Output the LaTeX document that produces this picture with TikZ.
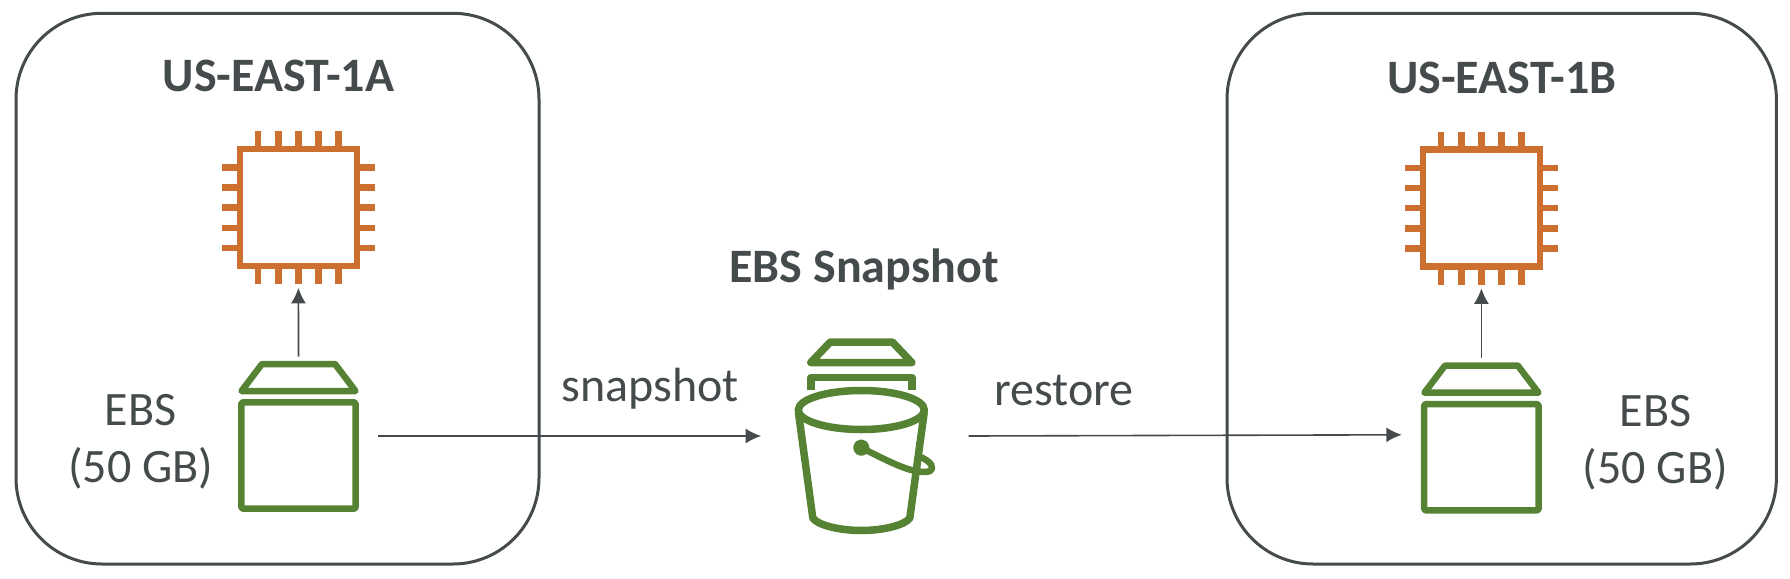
\documentclass[tikz,border=0pt]{standalone}
\usepackage{fontspec}
\setmainfont{Carlito}
\usetikzlibrary{
  arrows.meta, % for the triangle arrow tip
  positioning, % for relative positioning of the labels
}
\definecolor{inkgray}{HTML}{454B4C}
\definecolor{chiporange}{HTML}{CC6F2F}
\definecolor{ebsgreen}{HTML}{568234}
\tikzset{
  region/.style={ % style for the availability zones
    rectangle,draw=inkgray,line width=3pt,
    rounded corners=86pt,
    inner sep=0pt,
  },
  heading/.style={ % style for the bold titles
    text=inkgray,inner sep=0pt,
    font=\fontsize{48}{58}\selectfont\bfseries,
  },
  caption/.style={ % style for the plain labels
    text=inkgray,inner sep=0pt,align=center,
    font=\fontsize{48}{57}\selectfont,
  },
  conn/.style={ % style for the connections
    -{Latex[length=15.5pt,width=15pt]},
    draw=inkgray,line width=1.6pt,
  },
  chipline/.style={draw=chiporange,line width=6.5pt},
  greenline/.style={draw=ebsgreen,line width=6.5pt,line join=round},
  chipicon/.pic={ % processor with five pins on each side
    \node[rectangle,chipline,minimum size=117pt,inner sep=0pt] (body) at (0,0) {};
    \foreach \pos in {-40.2,-20.1,0,20.1,40.2} {
      \draw[chipline] (\pos,-60) -- (\pos,-76.6);
      \draw[chipline] (\pos,60) -- (\pos,76.6);
      \draw[chipline] (-60,\pos) -- (-76.6,\pos);
      \draw[chipline] (60,\pos) -- (76.6,\pos);
    }
  },
  ebsicon/.pic={ % volume with its lid
    \node[rectangle,greenline,rounded corners=1.5pt,minimum width=114.4pt,minimum height=106.4pt,inner sep=0pt] (body) at (0,0) {};
    \draw[greenline] (-57,-64.5) -- (-36.5,-91.5) -- (36.5,-91.5) -- (57,-64.5) -- cycle;
    \coordinate (lid) at (0,-95);
  },
  bucketicon/.pic={ % bucket below a lid and a bracket
    \draw[greenline,line width=7.5pt] (-50.5,-47.5) -- (-31,-68) -- (31,-68) -- (50.5,-47.5) -- cycle;
    \draw[greenline,line width=7.5pt] (-50.5,-20) -- (-50.5,-32.5) -- (50.5,-32.5) -- (50.5,-20);
    \draw[greenline,line width=7.5pt] (0,0) ellipse (63 and 19.5);
    \draw[greenline,line width=7.5pt,line cap=round] (-62.8,3) -- (-48.5,108) .. controls (-44,115) and (-22,120.5) .. (0,120.5)
      .. controls (22,120.5) and (44,115) .. (48.5,108) -- (62.8,3);
    \draw[greenline,fill=ebsgreen] (0,37.7) circle (5);
    \draw[greenline,line width=6.5pt] (0,37.7) .. controls (15,45) and (35,56) .. (50,60)
      .. controls (58,62) and (70,64) .. (70.7,58) .. controls (71,53) and (65,50) .. (59.7,47);
  },
}

\begin{document}
\begin{tikzpicture}[x=1pt,y=-1pt]
	\useasboundingbox (0,0) rectangle (1790,578);

	\node[region,minimum width=523pt,minimum height=550.7pt] (zonea) at (277.5,288.65) {};
	\node[region,minimum width=549.4pt,minimum height=550.7pt] (zoneb) at (1501.7,288.65) {};

	\pic (chipa) at (298.4,207.7) {chipicon};
	\pic (chipb) at (1481.4,208.2) {chipicon};
	\pic (ebsa) at (298.5,455.5) {ebsicon};
	\pic (ebsb) at (1481.4,457.2) {ebsicon};
	\pic at (861.3,410) {bucketicon};
	\node[minimum width=207pt,minimum height=20pt,inner sep=0pt] (bucket) at (864.85,436) {};

	\node[heading,anchor=base] (titlea) at (278.6,92) {US-EAST-1A};
	\node[heading,anchor=base] (titleb) at (1501.8,93) {US-EAST-1B};
	\node[heading,anchor=base] (titlesnap) at (864,282) {EBS Snapshot};

	\node[caption,left=24.7pt of ebsabody,yshift=14pt] (labela) {EBS\\(50 GB)};
	\node[caption,right=40.8pt of ebsbbody,yshift=14pt] (labelb) {EBS\\(50 GB)};
	\node[caption,anchor=base] (labelsnap) at (650,401.7) {snapshot};
	\node[caption,anchor=base] (labelrest) at (1063.7,405) {restore};

	\draw[conn,shorten <=4pt,shorten >=18.4pt] (ebsalid) -- (chipabody.south);
	\draw[conn,shorten <=4pt,shorten >=18.4pt] (ebsblid) -- (chipbbody.south);
	\draw[conn] ([xshift=19.3pt]ebsabody.east |- bucket.west) -- (bucket.west);
	\draw[conn] (bucket.east) -- ([xshift=-19.2pt,yshift=1.2pt]ebsbbody.west |- bucket.east);

\end{tikzpicture}
\end{document}
